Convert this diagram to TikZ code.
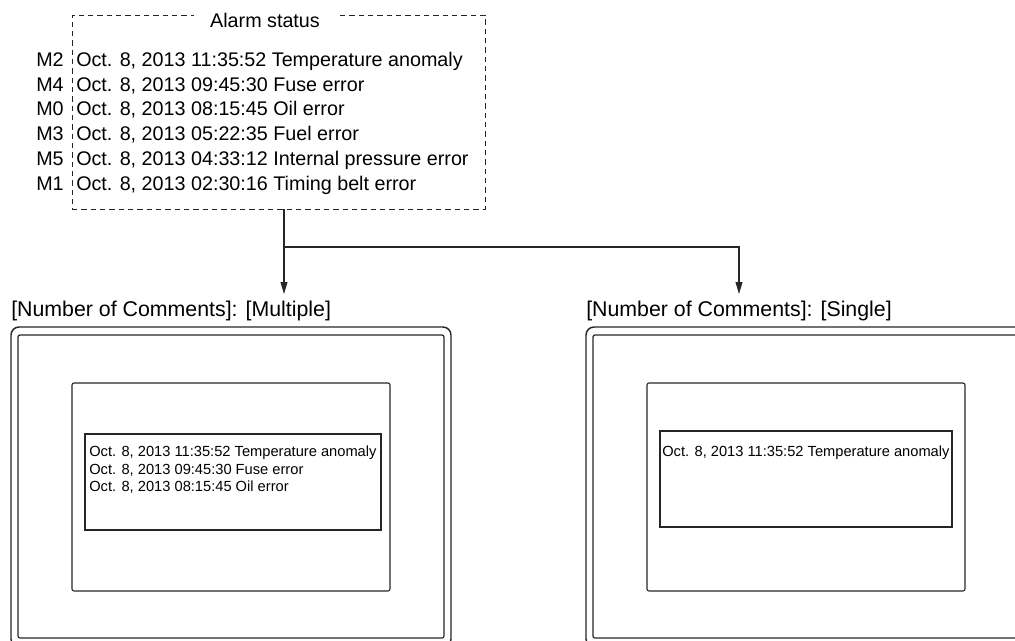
\documentclass[tikz,border=0pt]{standalone}
\usepackage{fontspec}
\setmainfont{Liberation Sans}
\usetikzlibrary{arrows.meta}
\begin{document}
\begin{tikzpicture}[x=0.75pt,y=-0.75pt,
  bx/.style 2 args={draw=black!85, inner sep=0pt, outer sep=0pt, minimum width={#1*0.75pt}, minimum height={#2*0.75pt}},
  alarmtxt/.style={anchor=base west, inner sep=0pt, font=\fontsize{14.8}{17}\selectfont},
  screentxt/.style={anchor=base west, inner sep=0pt, font=\fontsize{11}{13}\selectfont},
  lbl/.style={anchor=base west, inner sep=0pt, font=\fontsize{16}{19}\selectfont},
  outerdev/.style={line width=1.1pt, rounded corners=6pt},
  innerdev/.style={line width=0.9pt, rounded corners=1.5pt},
  scr/.style={line width=0.8pt, rounded corners=1.5pt},
  tbox/.style={line width=0.8pt},
  arr/.style={draw=black!85, line width=0.8pt, -{Triangle[length=9pt,width=5.2pt]}}]
\useasboundingbox (0,0) rectangle (1015,640);
\clip (0,0) rectangle (1015,640);
% alarm status box
\node[bx={413}{194}, dashed, dash pattern=on 4pt off 3pt, line width=0.7pt] (alarm) at (278.5,112) {};
\node[anchor=base, fill=white, inner xsep=12pt, inner ysep=1pt, font=\fontsize{14.8}{17}\selectfont] (title) at (265,27) {Alarm status};
\node[alarmtxt] (m2) at (36,66) {M2};
\node[alarmtxt] (r2) at (76,66) {Oct. 8, 2013 11:35:52 Temperature anomaly};
\node[alarmtxt] (m4) at (36,91) {M4};
\node[alarmtxt] (r4) at (76,91) {Oct. 8, 2013 09:45:30 Fuse error};
\node[alarmtxt] (m0) at (36,115.5) {M0};
\node[alarmtxt] (r0) at (76,115.5) {Oct. 8, 2013 08:15:45 Oil error};
\node[alarmtxt] (m3) at (36,140) {M3};
\node[alarmtxt] (r3) at (76,140) {Oct. 8, 2013 05:22:35 Fuel error};
\node[alarmtxt] (m5) at (36,165) {M5};
\node[alarmtxt] (r5) at (76,165) {Oct. 8, 2013 04:33:12 Internal pressure error};
\node[alarmtxt] (m1) at (36,190) {M1};
\node[alarmtxt] (r1) at (76,190) {Oct. 8, 2013 02:30:16 Timing belt error};
% connectors
\coordinate (j) at (284,247);
\coordinate (tipL) at (284,294);
\coordinate (tipR) at (739,294);
\draw[arr] (alarm.south -| j) -- (tipL);
\draw[arr] (j) -| (tipR);
% labels
\node[lbl] (lblL) at (11,316) {[Number of Comments]: [Multiple]};
\node[lbl] (lblR) at (586,316) {[Number of Comments]: [Single]};
% left device
\node[bx={440}{320}, outerdev] (outL) at (231,487) {};
\node[bx={426}{303}, innerdev] (inL) at (231,486.5) {};
\node[bx={318}{208}, scr] (scrL) at (231,487) {};
\node[bx={296}{96}, tbox] (tbL) at (233,482) {};
\node[screentxt] (sL1) at (89,456.5) {Oct. 8, 2013 11:35:52 Temperature anomaly};
\node[screentxt] (sL2) at (89,474) {Oct. 8, 2013 09:45:30 Fuse error};
\node[screentxt] (sL3) at (89,491.5) {Oct. 8, 2013 08:15:45 Oil error};
% right device
\node[bx={440}{320}, outerdev] (outR) at (806,487) {};
\node[bx={426}{303}, innerdev] (inR) at (806,486.5) {};
\node[bx={318}{208}, scr] (scrR) at (806,487) {};
\node[bx={292}{96}, tbox] (tbR) at (806,479) {};
\node[screentxt] (sR1) at (662,456.5) {Oct. 8, 2013 11:35:52 Temperature anomaly};
\end{tikzpicture}
\end{document}
